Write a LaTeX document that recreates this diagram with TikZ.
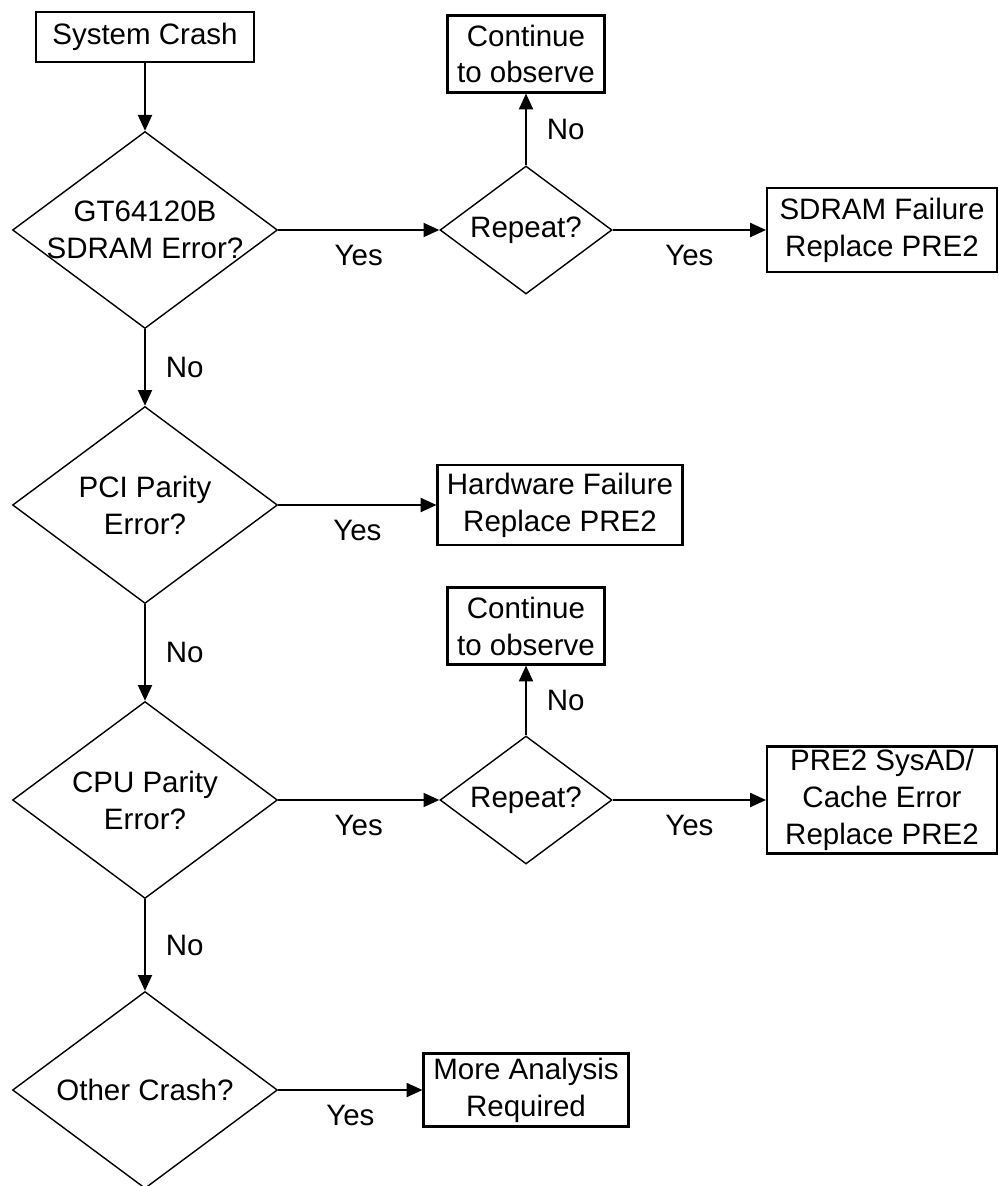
\documentclass[tikz,border=0pt]{standalone}
\usepackage{fontspec}
\setmainfont{Liberation Sans}
\usetikzlibrary{shapes.geometric,arrows.meta}

\begin{document}
\begin{tikzpicture}[x=0.02cm,y=-0.02cm,font=\fontsize{16.8}{21}\selectfont,
  box/.style={draw,line width=1.2pt,align=center,inner sep=0pt},
  test/.style={draw,diamond,line width=0.8pt,align=center,inner sep=-14pt,
    minimum width=5.3cm,minimum height=3.94cm},
  rep/.style={test,minimum width=3.44cm,minimum height=2.56cm},
  go/.style={line width=1pt,-{Triangle[length=9pt,width=8pt]}},
  ans/.style={inner sep=0pt}]
\useasboundingbox (0,0) rectangle (999,1186);

% main column
\node[box,minimum width=4.36cm,minimum height=1cm] (crash) at (145,37) {System Crash};
\node[test] (sdram) at (145,230) {GT64120B\\SDRAM Error?};
\node[test] (pci) at (145,505) {PCI Parity\\Error?};
\node[test] (cpu) at (145,800) {CPU Parity\\Error?};
\node[test] (other) at (145,1090) {Other Crash?};

% right side
\node[rep] (rep1) at (526,230) {Repeat?};
\node[box,minimum width=3.14cm,minimum height=1.54cm] (obs1) at (526,54) {Continue\\to observe};
\node[box,minimum width=4.6cm,minimum height=1.68cm] (fail1) at (882,230) {SDRAM Failure\\Replace PRE2};
\node[box,minimum width=4.9cm,minimum height=1.6cm] (hw) at (560,505) {Hardware Failure\\Replace PRE2};
\node[rep] (rep2) at (526,800) {Repeat?};
\node[box,minimum width=3.14cm,minimum height=1.54cm] (obs2) at (526,626) {Continue\\to observe};
\node[box,minimum width=4.6cm,minimum height=2.14cm] (fail2) at (882,800) {PRE2 SysAD/\\Cache Error\\Replace PRE2};
\node[box,minimum width=4.1cm,minimum height=1.46cm] (more) at (526,1090) {More Analysis\\Required};

\draw[go] (crash) -- (sdram);
\draw[go] (sdram) -- node[ans,below=0.28cm]{Yes} (rep1);
\draw[go] (rep1) -- node[ans,right=0.4cm]{No} (obs1);
\draw[go] (rep1) -- node[ans,below=0.28cm]{Yes} (fail1);
\draw[go] (sdram) -- node[ans,right=0.4cm]{No} (pci);
\draw[go] (pci) -- node[ans,below=0.28cm]{Yes} (hw);
\draw[go] (pci) -- node[ans,right=0.4cm]{No} (cpu);
\draw[go] (cpu) -- node[ans,below=0.28cm]{Yes} (rep2);
\draw[go] (rep2) -- node[ans,right=0.4cm]{No} (obs2);
\draw[go] (rep2) -- node[ans,below=0.28cm]{Yes} (fail2);
\draw[go] (cpu) -- node[ans,right=0.4cm]{No} (other);
\draw[go] (other) -- node[ans,below=0.28cm]{Yes} (more);
\end{tikzpicture}
\end{document}
